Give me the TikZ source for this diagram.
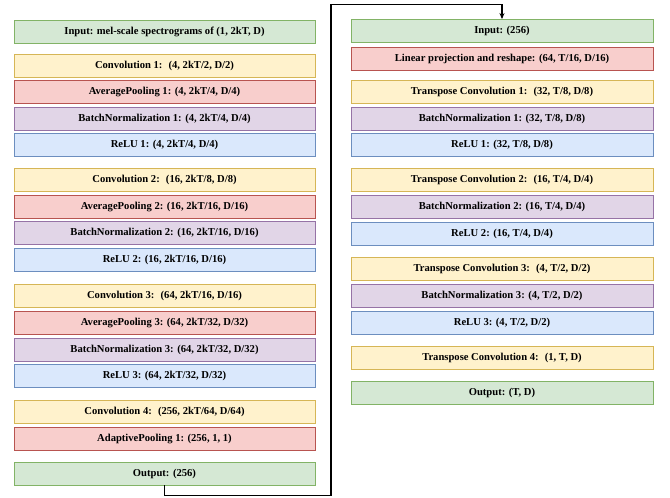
\documentclass[tikz,border=0pt]{standalone}
\usepackage{fontspec}
\setmainfont{Liberation Serif}
\usetikzlibrary{arrows.meta}
\definecolor{gF}{HTML}{D5E8D4}\definecolor{gS}{HTML}{82B366}
\definecolor{yF}{HTML}{FFF2CC}\definecolor{yS}{HTML}{D6B656}
\definecolor{rF}{HTML}{F8CECC}\definecolor{rS}{HTML}{B85450}
\definecolor{pF}{HTML}{E1D5E7}\definecolor{pS}{HTML}{9673A6}
\definecolor{bF}{HTML}{DAE8FC}\definecolor{bS}{HTML}{6C8EBF}
\begin{document}
\begin{tikzpicture}[x=1pt,y=-1pt,
  box/.style={draw, line width=0.9pt, minimum height=23pt, inner sep=0pt,
    font=\bfseries\fontsize{10.6}{12}\selectfont},
  lbox/.style={box, minimum width=301pt},
  rbox/.style={box, minimum width=302pt},
  gbox/.style={fill=gF, draw=gS},
  ybox/.style={fill=yF, draw=yS},
  redbox/.style={fill=rF, draw=rS},
  pbox/.style={fill=pF, draw=pS},
  bbox/.style={fill=bF, draw=bS},
  conn/.style={draw=black, line width=1.3pt, -{Stealth[length=6pt,width=5pt]}}]
\useasboundingbox (0,0) rectangle (670,498);
% left column
\node[lbox,gbox] (lin) at (164.5,31.5) {Input: mel-scale spectrograms of (1, 2kT, D)};
\node[lbox,ybox] (lc1) at (164.5,65.5) {Convolution 1:~ (4, 2kT/2, D/2)};
\node[lbox,redbox] (lp1) at (164.5,91.5) {AveragePooling 1: (4, 2kT/4, D/4)};
\node[lbox,pbox] (lb1) at (164.5,118.5) {BatchNormalization 1: (4, 2kT/4, D/4)};
\node[lbox,bbox] (lr1) at (164.5,145) {ReLU 1: (4, 2kT/4, D/4)};
\node[lbox,ybox] (lc2) at (164.5,179.5) {Convolution 2:~ (16, 2kT/8, D/8)};
\node[lbox,redbox] (lp2) at (164.5,206.5) {AveragePooling 2: (16, 2kT/16, D/16)};
\node[lbox,pbox] (lb2) at (164.5,232.5) {BatchNormalization 2: (16, 2kT/16, D/16)};
\node[lbox,bbox] (lr2) at (164.5,259.5) {ReLU 2: (16, 2kT/16, D/16)};
\node[lbox,ybox] (lc3) at (164.5,295.5) {Convolution 3:~ (64, 2kT/16, D/16)};
\node[lbox,redbox] (lp3) at (164.5,322.5) {AveragePooling 3: (64, 2kT/32, D/32)};
\node[lbox,pbox] (lb3) at (164.5,349.5) {BatchNormalization 3: (64, 2kT/32, D/32)};
\node[lbox,bbox] (lr3) at (164.5,376) {ReLU 3: (64, 2kT/32, D/32)};
\node[lbox,ybox] (lc4) at (164.5,411.5) {Convolution 4:~ (256, 2kT/64, D/64)};
\node[lbox,redbox] (lap) at (164.5,438.5) {AdaptivePooling 1: (256, 1, 1)};
\node[lbox,gbox] (lout) at (164.5,473.5) {Output: (256)};
% right column
\node[rbox,gbox] (rin) at (502,31) {Input: (256)};
\node[rbox,redbox] (rlin) at (502,58.5) {Linear projection and reshape: (64, T/16, D/16)};
\node[rbox,ybox] (rt1) at (502,91.5) {Transpose Convolution 1:~ (32, T/8, D/8)};
\node[rbox,pbox] (rb1) at (502,118.5) {BatchNormalization 1: (32, T/8, D/8)};
\node[rbox,bbox] (rr1) at (502,145) {ReLU 1: (32, T/8, D/8)};
\node[rbox,ybox] (rt2) at (502,180) {Transpose Convolution 2:~ (16, T/4, D/4)};
\node[rbox,pbox] (rb2) at (502,206.5) {BatchNormalization 2: (16, T/4, D/4)};
\node[rbox,bbox] (rr2) at (502,233.5) {ReLU 2: (16, T/4, D/4)};
\node[rbox,ybox] (rt3) at (502,268.5) {Transpose Convolution 3:~ (4, T/2, D/2)};
\node[rbox,pbox] (rb3) at (502,295.5) {BatchNormalization 3: (4, T/2, D/2)};
\node[rbox,bbox] (rr3) at (502,322.5) {ReLU 3: (4, T/2, D/2)};
\node[rbox,ybox] (rt4) at (502,357.5) {Transpose Convolution 4:~ (1, T, D)};
\node[rbox,gbox] (rout) at (502,393) {Output: (T, D)};
% connector
\coordinate (c1) at (164.5,495.5);
\coordinate (c2) at (331,495.5);
\coordinate (c3) at (331,4.5);
\coordinate (c4) at (502,4.5);
\draw[conn] (lout.south) -- (c1) -- (c2) -- (c3) -- (c4) -- (rin.north);
\end{tikzpicture}
\end{document}
